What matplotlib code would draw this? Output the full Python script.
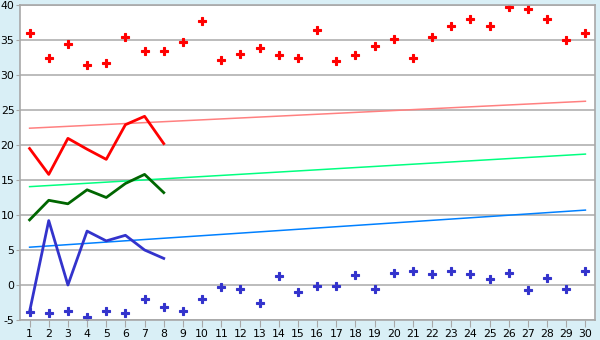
import matplotlib
matplotlib.use("Agg")
import matplotlib.pyplot as plt
import numpy as np

plt.rcParams["axes.unicode_minus"] = False

days = list(range(1, 31))
red_pts = [36.0, 32.4, 34.4, 31.4, 31.7, 35.4, 33.4, 33.4, 34.7, 37.7,
           32.2, 33.0, 33.8, 32.8, 32.4, 36.4, 32.0, 32.8, 34.1, 35.1,
           32.4, 35.4, 36.95, 37.95, 36.95, 39.7, 39.5, 37.95, 34.95, 35.95]
blue_pts = [-3.8, -3.95, -3.76, -4.57, -3.76, -4.05, -2.05, -3.19, -3.76, -2.05,
            -0.33, -0.62, -2.62, 1.24, -1.05, -0.19, -0.19, 1.38, -0.62, 1.67,
            1.95, 1.52, 1.95, 1.52, 0.81, 1.67, -0.76, 0.95, -0.62, 1.95]
line_days = [1, 2, 3, 4, 5, 6, 7, 8]
red_line = [19.5, 15.8, 20.95, 19.4, 17.95, 22.9, 24.1, 20.2]
green_line = [9.3, 12.1, 11.6, 13.6, 12.5, 14.5, 15.8, 13.2]
blue_line = [-3.8, 9.2, 0.0, 7.7, 6.3, 7.1, 5.0, 3.8]
trend_x = [1, 30]
red_trend = [22.4, 26.25]
green_trend = [14.05, 18.7]
blue_trend = [5.4, 10.7]
y_ticks = [-5, 0, 5, 10, 15, 20, 25, 30, 35, 40]

bg = "#d9eff6"
fig = plt.figure(figsize=(6, 3.4), dpi=100, facecolor=bg)
ax = fig.add_axes([20/600, 20/340, 575/600, 315/340])
ax.set_facecolor("white")

ax.set_xlim(0.5, 30.5)
ax.set_ylim(-5, 40)
ax.set_yticks(y_ticks)
ax.set_xticks(days)
ax.grid(axis="y", color="#b0b0b0", linewidth=1.2)
ax.set_axisbelow(True)

ax.plot(trend_x, red_trend, color="#ff8080", linewidth=1.1)
ax.plot(trend_x, green_trend, color="#00ff80", linewidth=1.1)
ax.plot(trend_x, blue_trend, color="#0080ff", linewidth=1.1)

ax.plot(line_days, red_line, color="#ff0000", linewidth=2)
ax.plot(line_days, green_line, color="#006600", linewidth=2)
ax.plot(line_days, blue_line, color="#3333cc", linewidth=2)

ax.plot(days, red_pts, linestyle="none", marker="P", markersize=5.5,
        color="#ff0000", markeredgewidth=0.8, markeredgecolor="#ff0000")
ax.plot(days, blue_pts, linestyle="none", marker="P", markersize=5.5,
        color="#3333cc", markeredgewidth=0.8, markeredgecolor="#3333cc")

for s in ["left", "bottom", "right", "top"]:
    ax.spines[s].set_color("#a8a8a8")
    ax.spines[s].set_linewidth(1.2)
ax.tick_params(axis="both", colors="#a8a8a8", labelcolor="#000000",
               labelsize=7.8, direction="out")
ax.tick_params(axis="y", length=3, pad=1)
ax.tick_params(axis="x", length=5, pad=1.5)

fig.savefig("out.png", dpi=100, facecolor=bg)
